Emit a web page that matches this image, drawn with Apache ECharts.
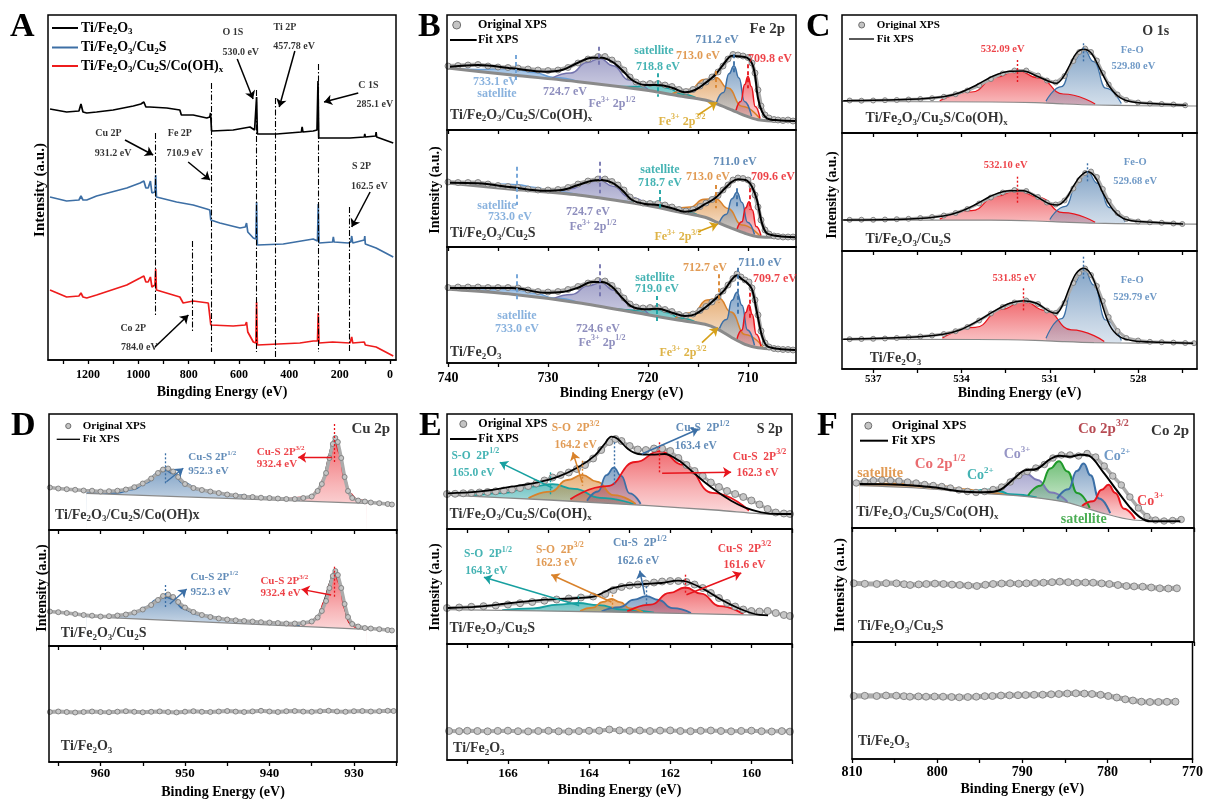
<!DOCTYPE html>
<html>
<head>
<meta charset="utf-8">
<script src="https://cdn.jsdelivr.net/npm/echarts@6/dist/echarts.min.js"></script>
<style>html,body{margin:0;background:#fff}#chart{width:1206px;height:801px}</style>
</head>
<body>
<div id="chart"></div>
<script>
const FONT = 'Liberation Serif'

// ---------- A: survey spectra (binding energy eV, intensity a.u.) ----------
const surveyFe = [[1351,251],[1285,248],[1236,249],[1228,256],[1220,248],[1205,247],[1166,248],[1100,250],[1020,254],[990,256],[978,258],[970,253],[954,253],[887,252],[835,250],[829,245],[782,245],[728,242],[716,243],[713,247],[709,229],[623,230],[556,233],[538,230],[532,229],[530,263],[527,226],[450,226],[352,228],[349,233],[346,228],[305,229],[290,230],[286,279],[283,222],[272,222],[159,222],[102,223],[100,226],[98,223],[57,224],[55,228],[53,223],[-13,217]]
const surveyCu = [[1351,163],[1285,159],[1236,160],[1228,164],[1220,160],[1205,160],[1166,164],[1046,172],[993,177],[978,179],[970,172],[961,172],[952,179],[946,167],[934,168],[931,185],[928,163],[921,163],[848,158],[782,155],[728,151],[716,150],[712,140],[676,137],[596,132],[575,133],[570,137],[565,128],[543,122],[533,121],[530,158],[527,115],[424,116],[305,121],[288,119],[285,156],[282,117],[278,117],[228,118],[225,123],[222,118],[166,117],[156,118],[152,124],[148,117],[102,120],[100,124],[98,116],[55,112],[-13,103]]
const surveyCo = [[1351,70],[1285,63],[1236,64],[1228,67],[1220,63],[1205,62],[1166,65],[1046,75],[993,82],[978,84],[970,78],[961,78],[952,83],[946,73],[934,75],[931,91],[928,70],[921,68],[835,63],[822,57],[782,59],[722,57],[716,58],[712,35],[623,34],[575,35],[570,38],[565,28],[543,18],[533,17],[530,58],[527,15],[358,17],[305,19],[288,19],[285,47],[282,17],[278,17],[228,18],[225,20],[222,17],[159,17],[152,23],[148,17],[102,18],[100,20],[98,15],[55,13],[-13,4]]
const surveyPeaks = [931.2, 710.9, 530.0, 457.78, 285.1, 162.5, 784.0]

// ---------- B: Fe 2p ----------
const feCoRaw = [[740,64],[739,64.5],[738,65],[737,65.5],[736,64],[735,63],[734,62.5],[733,62],[732,61],[731,60],[730,59.5],[729,60],[728,62.5],[727,67],[726,71],[725,73.5],[724.3,73.5],[723.6,70],[723,66],[722.4,60],[721.8,53],[721.2,48],[720.5,46],[719.8,46.5],[719,46.5],[718.3,45],[717.6,43.5],[716.9,40.5],[716.2,38.5],[715.5,40.5],[714.8,44],[714.2,48],[713.6,53],[713,58],[712.5,64],[712,71],[711.5,75.5],[711,75],[710.5,74],[710,72.5],[709.6,67],[709.3,57],[709,40],[708.7,24],[708.3,15],[707.9,12],[707.4,10.5],[707,10],[706.5,9.5],[706,10],[705.5,9]]
const feCoFit = [[739.8,63.3],[737,65],[733.6,61.7],[730.3,58.3],[728.6,60],[727,67.3],[725.6,72.3],[724.6,72.3],[723.6,68.3],[722.6,60],[721.6,50],[720.3,45],[719,45],[717.6,42.3],[716.3,37.7],[715.3,40],[714.3,46.7],[713.3,55],[712.5,65],[711.6,74.3],[711,73.7],[710.1,72.3],[709.6,66.7],[709.3,55],[709,31.7],[708.6,18.3],[708.1,11.7],[707,9.7],[705.3,9]]
const feCoBg = [[740.1,61.8],[739.8,61.7],[733.6,55],[727,48.3],[720.3,40],[717,34.3],[714.3,30],[713,25.7],[711.6,20],[710.3,14.3],[709,10.3],[707,9],[705.2,9]]
const feCoSat733 = [[739.5,61.6],[737,60.5],[735,61.2],[733.2,60.6],[731.4,57.5],[729.4,52.5],[727,48.5]]
const feCo2p12 = [[729.6,51.9],[727.7,57.1],[726.1,67.5],[724.8,71.6],[723.5,64.3],[721.9,50.1],[720,40.4]]
const feCoSat719 = [[723,43.6],[721.3,43.4],[720.1,45.2],[719,44.8],[717.9,41.4],[716.7,36],[715,31.4]]
const feCo713 = [[717.6,36.2],[715.8,40.5],[714.4,50.5],[713.2,52.4],[712,41.9],[710.6,23.7],[708.8,11.1]]
const feCo711 = [[713.15,27.8],[712.45,37.5],[711.9,56.2],[711.4,64.3],[710.9,52],[710.35,28.5],[709.65,13.9]]
const feCo710 = [[711.2,19.8],[710.72,28.6],[710.33,45.6],[710,53.4],[709.67,43.6],[709.28,23.6],[708.8,11.6]]

const feCuRaw = [[740,65],[739,64.5],[738,64.5],[737,64.5],[736,63],[735,61.5],[734,60.5],[733,59.5],[732,58],[731,57],[730,57],[729,57.5],[728,59.5],[727,63],[726,66],[725,68],[724.3,68],[723.6,65.5],[723,62],[722.4,57],[721.8,50],[721.2,46],[720.5,44],[719.8,43.5],[719,43.5],[718.3,42],[717.6,40],[716.9,37.5],[716.2,36],[715.5,37.5],[714.8,40.5],[714.2,44],[713.6,47.5],[713,51.5],[712.5,57],[712,62],[711.5,67],[711,69],[710.5,68.5],[710,67],[709.6,61],[709.3,52],[709,40],[708.7,27],[708.3,17],[707.9,13],[707.4,11],[707,10.5],[706.5,10],[706,10],[705.5,10]]
const feCuFit = [[739.8,64.3],[737,63.7],[733.6,59.7],[730.3,56.3],[728.6,57],[727,62],[725.6,66.3],[724.6,67],[723.6,64.3],[722.6,57],[721.6,47],[720.3,43],[719,42],[717.6,38.7],[716.3,35.3],[715.3,37],[714.3,43],[713.3,48.7],[712.3,58.7],[711.6,65.3],[711,67.7],[710.1,66.3],[709.6,60.3],[709.1,47],[708.6,23.7],[708.1,13.7],[707,11],[705.3,9.7]]
const feCuBg = [[740.1,63.8],[739.8,63.7],[733.6,57.7],[727,52],[720.3,42],[717,35.3],[714.3,29.7],[713,24.3],[711.6,18.7],[710.3,13.7],[709,10.3],[707,9.7],[705.2,9.7]]
const feCuSat733 = [[739.5,63.6],[737,62.5],[735,63],[733.1,62.3],[731.3,59.6],[729.4,55.6],[727,52.2]]
const feCu2p12 = [[729.6,54.9],[727.7,58.2],[726.1,64.7],[724.8,66.7],[723.5,60.8],[721.9,50],[720,42]]
const feCuSat719 = [[722.8,45.9],[721.1,44.8],[719.9,45.1],[718.8,44],[717.7,40.7],[716.5,35.8],[714.8,30.9]]
const feCu713 = [[717.6,37.3],[715.8,39.9],[714.4,47.8],[713.2,48.1],[712,38.5],[710.6,22],[708.8,10.9]]
const feCu711 = [[712.85,25],[712.15,32.8],[711.6,48.3],[711.1,54.8],[710.6,44.5],[710.05,24.8],[709.35,12.5]]
const feCu710 = [[711.1,18],[710.62,25.2],[710.23,39.2],[709.9,45.3],[709.57,37],[709.18,20.4],[708.7,11.2]]

const feRaw = [[740,75.5],[739,76],[738,76],[737,76],[736,75.5],[735,75.5],[734,75.5],[733,75],[732,73],[731,71.5],[730,71],[729,71.5],[728,73.5],[727,76.5],[726,80],[725,82.5],[724.3,82],[723.6,77.5],[723,72],[722.4,65],[721.8,59],[721.2,56],[720.5,55],[719.8,55.5],[719,55.5],[718.3,53.5],[717.6,51.5],[716.9,48.5],[716.2,47.5],[715.5,49],[714.8,52.5],[714.2,56.5],[713.6,61],[713,66],[712.5,72],[712,78],[711.5,84.5],[711.1,89],[710.7,86],[710.3,83],[709.9,81],[709.6,75],[709.3,63],[709,48],[708.7,32],[708.3,20],[707.9,16],[707.4,14.5],[707,14],[706.5,13.5],[706,13.5],[705.5,13]]
const feFit = [[739.8,75],[737,75],[733.6,75],[730.3,70.3],[728.6,71],[727,75.3],[725.6,81],[724.6,81],[723.6,76.3],[722.6,65.3],[721.6,56.3],[720.3,53.7],[719,54.3],[717.6,50.3],[716.3,47],[715.3,48.7],[714.3,55.3],[713.3,63.7],[712.3,73.7],[711.6,83.7],[711.1,87.7],[710.6,83.7],[710.1,80.3],[709.6,73.7],[709.1,50.3],[708.6,27],[708.1,17],[707,14.3],[705.3,13]]
const feBg = [[740.1,73.8],[739.8,73.7],[733.6,68.7],[727,60.3],[720.3,48.7],[717,43],[714.3,38.7],[713,33.7],[711.6,25.3],[710.3,18.7],[709,15.3],[707,13.7],[705.2,13]]
const feSat733 = [[739.5,73.7],[737,72.9],[735,73.7],[733.1,73.1],[731.3,69.7],[729.4,64.9],[727,60.5]]
const fe2p12 = [[729.5,64.3],[727.6,68.5],[726,77.3],[724.7,80.3],[723.4,72.8],[721.8,58.7],[719.9,48.8]]
const feSat719 = [[723.1,53.9],[721.4,52.8],[720.2,54],[719.1,53.6],[718,50.2],[716.8,44.9],[715.1,40.3]]
const fe713 = [[717.3,44.6],[715.5,50.5],[714.1,62.9],[712.9,65.1],[711.7,50.9],[710.3,28.6],[708.5,15.9]]
const fe711 = [[712.85,34.5],[712.15,43.4],[711.6,62.7],[711.1,70.7],[710.6,57.7],[710.05,32.9],[709.35,17.7]]
const fe710 = [[711.1,24.1],[710.62,32.7],[710.23,50.5],[709.9,58],[709.57,48.5],[709.18,28.7],[708.7,16.5]]

// ---------- C: O 1s ----------
const oCoRaw = [[537.8,32.5],[537.4,32.3],[537,32.5],[536.6,32.8],[536.2,33],[535.8,33.5],[535.4,34],[535,34.8],[534.6,36.2],[534.2,38.8],[533.8,42.5],[533.4,47.5],[533,54],[532.6,59.5],[532.2,62.5],[531.8,62.5],[531.4,57.5],[531.1,52.5],[530.8,50.5],[530.5,57],[530.2,72],[530,81],[529.8,84.5],[529.6,81],[529.4,72.5],[529.2,60],[529,48.5],[528.7,38.5],[528.4,33],[528,30.5],[527.6,29.5],[527.2,29],[526.8,28.5],[526.4,27.7]]
const oCoFit = [[538.02,32.3],[535.76,33.7],[534.62,36.3],[534.06,40.3],[533.49,48],[532.92,57],[532.36,61.7],[531.9,62],[531.45,57],[531,51.3],[530.78,49.7],[530.55,55.7],[530.32,68],[530.1,79.7],[529.85,83.7],[529.59,79.7],[529.31,64.7],[528.97,46.3],[528.63,35.7],[528.18,31],[527.27,29],[526.36,27.7]]
const oCoBg = [[538.06,31.5],[533,31],[531.5,30.3],[530.5,29],[529.5,28],[528,27.3],[526,27]]
const oCoOH = [[534.74,32.3],[533.66,41],[532.82,55.9],[532.1,62.6],[531.38,55.1],[530.54,39],[529.46,29.1]]
const oCoFeO = [[531.13,31.9],[530.6,46.4],[530.2,72.1],[529.85,83.9],[529.5,71.3],[529.1,44.8],[528.57,29.4]]

const oCuRaw = [[537.8,31.2],[537.4,31.3],[537,31.2],[536.6,31.5],[536.2,31.8],[535.8,32.2],[535.4,33],[535,34],[534.6,35.5],[534.2,38],[533.8,42],[533.4,47.5],[533,53.5],[532.6,58.5],[532.2,61],[531.8,60],[531.4,54],[531.1,48.5],[530.8,46.5],[530.5,50.5],[530.2,62.5],[530,71],[529.8,78],[529.6,79.5],[529.4,74],[529.2,62],[529,50],[528.7,38],[528.4,32],[528,29.5],[527.6,28.7],[527.2,28.2],[526.8,27.5],[526.5,27]]
const oCuFit = [[538.02,31],[535.76,32],[534.62,35],[534.06,39.3],[533.49,47],[532.92,56],[532.36,60.3],[531.9,60.3],[531.45,54.3],[531,47],[530.72,46],[530.44,52.7],[530.21,64.3],[529.98,74.3],[529.72,79.3],[529.47,74.3],[529.19,57.7],[528.85,41],[528.51,32.7],[528.06,29.7],[527.27,28.3],[526.47,27]]
const oCuBg = [[538.06,31],[533,30.8],[531.5,30],[530.5,28.8],[529.5,27.8],[528,27.2],[526,26.8]]
const oCuOH = [[534.74,31.9],[533.66,40.3],[532.82,54.5],[532.1,60.8],[531.38,53.7],[530.54,38.3],[529.46,28.8]]
const oCuFeO = [[531,31.5],[530.47,44.6],[530.07,68.2],[529.72,79.1],[529.37,67.5],[528.97,43.4],[528.44,29.2]]

const oRaw = [[537.8,29.8],[537.4,30],[537,30.2],[536.6,30.5],[536.2,31],[535.8,31.8],[535.4,32.5],[535,33.5],[534.6,35],[534.2,37.8],[533.8,42],[533.4,48.5],[533,55.5],[532.6,62],[532.2,66.5],[531.8,68.5],[531.4,65],[531.1,58.5],[530.8,56],[530.5,66],[530.2,86],[530,96],[529.8,100.5],[529.6,94],[529.4,83],[529.2,68],[529,52],[528.7,38],[528.4,31],[528,28.5],[527.6,27.2],[527.2,26.8],[526.8,26.4],[526.4,26],[526.1,25.8]]
const oFit = [[538.02,29.7],[535.76,31.7],[534.62,34.7],[534.06,39],[533.49,47.3],[532.92,57.3],[532.36,65.7],[531.9,68.3],[531.45,65.7],[531,57.3],[530.78,55.7],[530.55,65],[530.32,82.3],[530.1,95.7],[529.85,100.7],[529.59,94],[529.31,72.3],[528.97,44],[528.63,32.3],[528.18,28.3],[527.27,26.7],[526.13,25.7]]
const oBg = [[538.06,29.7],[533.5,29.5],[531.5,28.7],[530.5,27.3],[529.5,26.3],[528,25.8],[526,25.6]]
const oOH = [[534.65,31],[533.53,41.6],[532.65,59.6],[531.9,67.9],[531.15,58.6],[530.27,39.2],[529.15,27.6]]
const oFeO = [[531.13,30.7],[530.6,50.4],[530.2,84.7],[529.85,100.6],[529.5,84],[529.1,49],[528.57,28.5]]

// ---------- D: Cu 2p ----------
const cuCoRaw = [[966,42.5],[965,41.5],[964,40.8],[963,40.2],[962,39.5],[961,39.3],[960,38.5],[959,38.8],[958,39.3],[957,40.5],[956,42.8],[955,46.5],[954,51.5],[953.2,57],[952.6,60.5],[952,61.5],[951.4,58.5],[950.8,53],[950,46],[949,42],[948,40],[947,38.5],[946,37],[945,35.5],[944,34.5],[943,33.5],[942,33],[941,32.3],[940,32],[939,31.5],[938,31],[937,31],[936,32],[935,33.5],[934.3,39],[933.8,46],[933.3,57],[932.9,72],[932.5,86],[932.2,92],[931.9,88],[931.5,72],[931.1,53],[930.7,39],[930.2,32],[929.5,29.5],[928.7,28.5],[928,27.5],[927,26.8],[926,26],[925.5,25.5]]
const cuCoFit = [[961.7,39.3],[960.1,38.3],[958.1,39.3],[956.1,42.7],[954.6,48.3],[953.4,55],[952.4,60.7],[951.8,60.7],[951,55],[949.8,45],[948.3,40],[946.3,36.7],[944.3,34],[940.4,31.7],[937.2,30.7],[935.2,33.3],[934.2,40.7],[933.5,55],[932.9,76.7],[932.3,90.7],[931.9,86.7],[931.1,53.3],[930.5,35],[929.3,30],[928.5,28.3]]
const cuCoBg = [[961.66,36.7],[928.52,26.7]]
const cuCo2p12 = [[961.66,36.7],[958.1,37.3],[956.14,40.7],[954.56,47.3],[953.37,56],[952.31,60],[951.41,56.7],[950.22,47.3],[948.25,40],[944.31,35],[940.36,32.3],[936.41,30]]
const cuCo2p32 = [[937.95,30.7],[935.2,32.7],[934.24,39.3],[933.45,52.7],[932.86,73.3],[932.27,90.7],[931.68,76.7],[931.09,50],[930.5,36.7],[929.7,30.7],[928.52,27.3]]

const cuCuRaw = [[966,34.5],[965,33.8],[964,33],[963,32],[962,31],[961,30.3],[960,29.5],[959,29.8],[958,30.5],[957,31.5],[956,33.5],[955,36.5],[954,41],[953.2,46],[952.6,50],[952,51.5],[951.4,49],[950.8,44],[950,38.5],[949,34],[948,31],[947,29],[946,27.5],[945,26.5],[944,25.7],[943,25],[942,24.5],[941,23.8],[940,23.5],[939,23],[938,22.5],[937,22.5],[936,23],[935,24.5],[934.3,28.5],[933.8,35],[933.3,45],[932.9,58],[932.5,70],[932.2,75],[931.9,71],[931.5,58],[931.1,42],[930.7,29],[930.2,22],[929.5,19.5],[928.7,18],[928,17.5],[927,16.8],[926,16],[925.5,15.5]]
const cuCuFit = [[961.7,30],[960.1,29.3],[956.1,32.7],[954.6,38.7],[953.4,46],[952.3,50.5],[951.4,47.7],[950.2,37.7],[948.3,31],[944.3,26],[940.4,23.3],[937.2,22],[935.2,24.3],[934.2,31],[933.5,46],[932.9,62.7],[932.3,74.3],[931.7,64.3],[931.1,37.7],[930.5,22.7],[929.3,18.7],[928.5,17.7]]
const cuCuBg = [[961.66,29.3],[928.52,16.7]]
const cuCu2p12 = [[961.66,29.3],[958.1,30],[956.14,32.7],[954.56,38.7],[953.37,46],[952.31,49.3],[951.41,46.7],[950.22,37.7],[948.25,31],[944.31,26],[940.36,23.3],[936.41,20.7]]
const cuCu2p32 = [[937.95,21],[935.2,23.3],[934.24,29.3],[933.45,44.3],[932.86,61],[932.3,73.3],[931.68,62.7],[931.09,37.7],[930.5,23.3],[929.7,18.7],[928.52,16.7]]

const cuFeRaw = [[966,50],[965,50.5],[964,50],[963,49.5],[962,50],[961,50.5],[960,50],[959,49.8],[958,50.3],[957,50.8],[956,50.2],[955,49.7],[954,50.2],[953,50.6],[952,50],[951,49.6],[950,50.3],[949,50.8],[948,50.2],[947,50],[946,50.5],[945,51],[944,50.4],[943,50],[942,50.6],[941,51.2],[940,50.5],[939,50],[938,50.8],[937,51],[936,50.4],[935,50.2],[934,50.8],[933,51.2],[932,50.6],[931,50.2],[930,50.8],[929,51],[928,50.5],[927,50.8],[926,51.2],[925.3,51]]

// ---------- E: S 2p ----------
const sCoRaw = [[167.5,35],[167.3,35.2],[167.1,35.7],[166.9,36],[166.7,36.5],[166.5,37],[166.3,37.7],[166.1,38.5],[165.9,39.5],[165.7,41],[165.5,43],[165.3,45.5],[165.1,48.5],[164.9,51.5],[164.7,54],[164.5,56.5],[164.3,60],[164.1,64],[163.9,70.5],[163.7,79],[163.5,87],[163.35,90],[163.2,88],[163,83],[162.8,79.5],[162.6,79],[162.4,80.5],[162.2,80.5],[162,78],[161.8,71],[161.6,64],[161.4,58],[161.2,53],[161,46.5],[160.8,42],[160.6,38],[160.4,35],[160.2,32],[160,28.5],[159.8,24.5],[159.6,20],[159.4,16.5],[159.2,15.5],[159.05,15]]
const sCoFit = [[167.48,35.7],[166.74,37.3],[165.92,42.3],[165.26,46.7],[164.76,52.3],[164.27,61.7],[163.86,73.3],[163.62,85],[163.45,92.3],[163.29,90],[163.04,80],[162.79,75],[162.46,74.3],[162.14,75],[161.81,69],[161.48,58.3],[161.15,46.7],[160.82,36.7],[160.5,28.3],[160.17,21.7],[159.76,16.7],[159.35,15],[159.02,15]]
const sCoBg = [[167.5,34],[164.98,29],[162.53,23.3],[160.9,19],[159.35,14.3],[159.02,14.2]]
const sCoSO12 = [[166.9,33.4],[166.07,36.2],[165.44,42.4],[164.9,44.8],[164.36,40.1],[163.73,31.2],[162.9,24.8]]
const sCoSO32 = [[165.49,30.9],[164.95,37.3],[164.53,49],[164.17,54.2],[163.81,47.4],[163.39,33.8],[162.85,25]]
const sCoCuS12 = [[164.05,28.3],[163.78,37.5],[163.57,53.9],[163.39,61.4],[163.21,53.1],[163,35.7],[162.73,25.1]]
const sCoCuS32 = [[164.46,29.7],[163.56,42.8],[162.86,67],[162.26,77.8],[161.66,64.1],[160.96,36.2],[160.06,18.5]]

const sCuRaw = [[167.5,36],[167.2,36.5],[166.9,37.2],[166.6,37.8],[166.3,38.5],[166,39.5],[165.7,40.8],[165.4,42],[165.1,43.3],[164.8,44.5],[164.5,45.5],[164.2,46.5],[163.9,47.5],[163.6,50],[163.4,54],[163.2,57],[163,58.5],[162.8,59.5],[162.6,60.5],[162.4,61.5],[162.2,62.5],[162,63],[161.8,63],[161.6,62],[161.4,59.5],[161.2,56],[161,51],[160.8,46],[160.6,41],[160.4,37.5],[160.2,34.5],[160,33],[159.8,32.5],[159.6,33],[159.4,31],[159.2,29],[159.05,28]]
const sCuFit = [[167.48,36],[166.74,37.3],[165.92,41],[165.09,44.3],[164.27,46],[163.86,47.7],[163.62,52],[163.45,55.3],[163.12,58.7],[162.63,60],[162.22,61],[161.81,63.3],[161.56,62],[161.15,54.3],[160.74,44.3],[160.33,36],[159.92,30],[159.59,28.7]]
const sCuBg = [[167.5,34.3],[163.45,32],[159.59,28.7]]
const sCuSO12 = [[166.14,33.8],[165.37,35.7],[164.77,39.4],[164.27,41],[163.77,38.8],[163.17,34.4],[162.4,31.4]]
const sCuSO32 = [[164.22,33],[163.91,36.3],[163.66,42.2],[163.45,45],[163.24,41.9],[162.99,35.6],[162.68,31.8]]
const sCuCuS12 = [[163.69,32.7],[163.24,36.9],[162.89,44.4],[162.59,47.8],[162.29,44],[161.94,35.9],[161.49,31]]
const sCuCuS32 = [[163.06,32.6],[162.48,39.3],[162.02,51.1],[161.63,56.5],[161.24,50.4],[160.78,37.8],[160.2,30]]

const sFeRaw = [[167.45,29],[167.2,28.8],[167,29.2],[166.75,29],[166.5,28.7],[166.25,29.1],[166,29.3],[165.75,28.8],[165.5,28.6],[165.25,29],[165,29.2],[164.75,28.7],[164.5,28.5],[164.25,28.9],[164,29.2],[163.75,29.3],[163.5,30.5],[163.25,29.6],[163,29.2],[162.75,29.5],[162.5,29],[162.25,29.4],[162,29.6],[161.75,29],[161.5,28.8],[161.25,29.2],[161,29.5],[160.75,29],[160.5,28.7],[160.25,29.1],[160,29.3],[159.75,28.8],[159.5,28.5],[159.25,28.9],[159.05,28.4]]

// ---------- F: Co 2p ----------
const coRaw = [[809.5,45],[808.5,46.5],[807.5,47.5],[806.5,48],[805.5,47.5],[804.5,47],[803.5,46],[802.5,45],[801.5,43.5],[800.5,42.5],[799.5,41.5],[798.5,40],[797.5,38],[796.5,36.5],[795.5,35.5],[794.5,36.5],[793.5,38.5],[792.5,41],[791.5,46],[790.5,52.5],[789.5,56.5],[788.5,60],[787.5,63.5],[786.5,70],[785.5,73],[784.5,73],[783.5,72],[782.5,74.5],[781.5,71],[780.5,62],[779.5,52],[778.5,43],[777.5,31],[776.5,20],[775.5,11.5],[774.5,8],[773.5,7],[772.5,7.5],[771.5,8.5]]
const coFit = [[809.1,44],[804.4,43.3],[800.5,40.7],[797.4,36.7],[794.6,35.7],[792.7,38],[791.1,49],[789.9,57.3],[788.4,59],[786.8,69],[785.7,72.3],[784.5,71.3],[783.3,73.3],[782.3,72.3],[780.6,55.7],[779,37.3],[777.5,20.7],[776.3,10.7],[775.1,6.7],[771.6,6.7]]
const coBg = [[809.1,42.3],[802.5,40],[794.7,34.7],[788.8,30.7],[784.9,25.7],[781,15.7],[777.1,8],[771.6,6.7]]
const coSatA = [[809.1,42.6],[806.3,44.3],[803.2,44.8],[800.1,42.6],[797,38.8],[793.8,35],[791.9,33]]
const coCo2A = [[797.2,37.2],[795.7,37.1],[794.6,38.2],[793.8,38.4],[792.8,37],[791.5,33.7],[788.4,30.5]]
const coCo3A = [[794.4,35.3],[792.5,40.3],[790.9,50],[789.6,54.2],[788.3,48],[786.7,35.4],[784.8,26.2]]
const coSatB = [[789.4,32.5],[787.95,42.2],[786.8,59.6],[785.8,66.8],[784.8,56.6],[783.65,34.9],[782.2,20.2]]
const coCo2B = [[786,29.4],[784.7,38.8],[783.7,56.9],[782.9,64.5],[782.1,52.7],[781.1,29.4],[779.8,14.8]]
const coCo3B = [[783.1,22],[781.8,26.7],[780.8,38.3],[780,43.2],[779.2,35.1],[778.2,19.3],[776.9,8.9]]
const coCuRaw = [[809.8,58.7],[808.5,58.2],[807.1,58],[806,58.8],[804.8,58.7],[803.9,57.8],[803.2,57],[802.2,57.6],[801.3,58],[800.3,58.4],[799.3,58],[798.3,57.4],[797.4,57],[796.4,56.5],[795.4,56],[794.4,57.2],[793.5,58],[792.5,58.5],[791.5,58.7],[790.5,58.3],[789.6,58.7],[788.6,59],[787.6,59.3],[786.6,59.8],[785.7,60.3],[784.7,59.8],[783.7,59.3],[782.7,59.5],[781.8,59.3],[780.8,58.6],[779.9,58],[778.9,57],[777.9,56],[777,55.6],[776,55.3],[775,54.5],[774,53.7],[773,53.5],[772,53.7]]
const coFeRaw = [[809.8,63],[808.5,63.2],[807.1,63],[806,63.5],[804.8,63.3],[803.9,62.8],[803.2,62.3],[802.2,62.6],[801.3,62.3],[800.3,62.5],[799.3,62.3],[798.3,62],[797.4,61.7],[796.4,62],[795.4,62.3],[794.4,62.8],[793.5,63],[792.5,63.5],[791.5,63.7],[790.5,63.8],[789.6,64],[788.6,64.2],[787.6,64.3],[786.6,64.7],[785.7,65],[784.7,65.5],[783.7,65.7],[782.7,65.4],[781.8,65],[780.8,64.2],[779.9,63],[778.9,61.5],[777.9,59.7],[777,58.5],[776,57.3],[775,57],[774,57],[773,57.2],[772,57.3]]

// axis ticks / labels
const aTicks = [0,100,200,300,400,500,600,700,800,900,1000,1100,1200,1300]
const aLabels = [0,200,400,600,800,1000,1200]
const bTicks = [705,710,715,720,725,730,735,740]
const bLabels = [710,720,730,740]
const cTicks = [526.5,528,529.5,531,532.5,534,535.5,537]
const cLabels = [528,531,534,537]
const dTicks = [925,930,935,940,945,950,955,960,965]
const dLabels = [930,940,950,960]
const eTicks = [159,160,161,162,163,164,165,166,167]
const eLabels = [160,162,164,166]
const fTicks = [770,775,780,785,790,795,800,805,810]
const fLabels = [770,780,790,800,810]

// colours
const LB = '#6b9fd6', PU = '#7272ad', TE = '#17a0a0', OR = '#d9822b', BL = '#3b6fa6', RD = '#e8141c', GD = '#d6a019'
const GR = '#1f9a2a', DR = '#a51e28', R2 = '#e4464b', PU2 = '#7c7ab6', BL2 = '#4b7fb8'

// ---------- helpers ----------
const RICH = {}
;[10, 10.5, 11, 11.5, 12, 13, 14, 15].forEach((s) => {
    const k = String(s).replace('.', '_')
    RICH['b' + k] = {fontFamily: FONT, fontWeight: 'bold', fontSize: Math.round(s * 0.66), padding: [Math.round(s * 0.55), 0, 0, 0]}
    RICH['p' + k] = {fontFamily: FONT, fontWeight: 'bold', fontSize: Math.round(s * 0.66), padding: [0, 0, Math.round(s * 0.75), 0]}
})
const rt = (s, size) => {
    const k = String(size).replace('.', '_')
    return s.replace(/_\{([^}]*)\}/g, (m, t) => `{b${k}|${t}}`).replace(/\^\{([^}]*)\}/g, (m, t) => `{p${k}|${t}}`)
}
const hexA = (h, a) => {
    const n = parseInt(h.slice(1), 16)
    return `rgba(${n >> 16},${(n >> 8) & 255},${n & 255},${a})`
}
const grad = (c) => new echarts.graphic.LinearGradient(0, 0, 0, 1, [
    {offset: 0, color: hexA(c, 0.9)},
    {offset: 0.5, color: hexA(c, 0.45)},
    {offset: 1, color: hexA(c, 0.08)},
])

const option = {animation: false, backgroundColor: '#fff', grid: [], xAxis: [], yAxis: [], series: [], graphic: []}
const S = option.series

function addGrid(box, xr, H, ticks, labels, lsize, lmargin, name, ngap) {
    const i = option.grid.length
    option.grid.push({left: box[0], top: box[1], width: box[2], height: box[3], show: true, borderColor: '#000', borderWidth: 1.5, backgroundColor: 'rgba(0,0,0,0)', z: 10})
    option.xAxis.push({
        gridIndex: i, type: 'value', min: xr[0], max: xr[1], inverse: true, position: 'bottom', z: 10,
        axisLine: {show: true, onZero: false, lineStyle: {color: '#000', width: 1.5}},
        axisTick: {show: true, inside: false, length: 4, lineStyle: {color: '#000', width: 1.3}, customValues: ticks},
        axisLabel: labels
            ? {show: true, customValues: labels, margin: lmargin, color: '#000', fontFamily: FONT, fontWeight: 'bold', fontSize: lsize, formatter: (v) => String(v)}
            : {show: false},
        splitLine: {show: false},
        name: name || '', nameLocation: 'middle', nameGap: ngap || 0,
        nameTextStyle: {color: '#000', fontFamily: FONT, fontWeight: 'bold', fontSize: 14},
    })
    option.yAxis.push({gridIndex: i, type: 'value', min: 0, max: H, show: false})
    return i
}

const ax = (g) => ({xAxisIndex: g, yAxisIndex: g, silent: true})

function spectrum(g, o) {
    o.peaks.forEach(([d, c]) => {
        S.push({type: 'line', ...ax(g), data: d, smooth: 0.5, smoothMonotone: 'x', symbol: 'none',
            lineStyle: {color: c, width: o.pkW || 1.6}, areaStyle: {color: grad(c)}, z: 2})
    })
    if (o.bg) {
        S.push({type: 'line', ...ax(g), data: o.bg, symbol: 'none', lineStyle: {opacity: 0}, areaStyle: {color: '#fff', opacity: 1}, z: 3})
        S.push({type: 'line', ...ax(g), data: o.bg, symbol: 'none', smooth: 0.3, lineStyle: {color: '#8a8a8a', width: o.bgW || 1.5}, z: 4})
    }
    if (o.raw) {
        S.push({type: 'line', ...ax(g), data: o.raw, symbol: 'circle', symbolSize: o.dot || 6, showSymbol: true,
            lineStyle: {color: '#ababab', width: o.rawW || 3}, itemStyle: {color: '#c6c6c6', borderColor: '#737373', borderWidth: 0.8}, z: 5})
    }
    if (o.fit) {
        S.push({type: 'line', ...ax(g), data: o.fit, smooth: 0.35, symbol: 'none', lineStyle: {color: '#000', width: o.fitW || 2}, z: o.fitZ || 6})
    }
}

function texts(g, items) {
    S.push({
        type: 'scatter', ...ax(g), symbolSize: 1, itemStyle: {color: 'rgba(0,0,0,0)'}, z: 20, clip: false,
        label: {show: true, position: 'inside', fontFamily: FONT, fontWeight: 'bold', formatter: (p) => p.data.t, rich: RICH},
        data: items.map(([x, y, s, c, size, al]) => ({value: [x, y], t: rt(s, size), label: {color: c, fontSize: size, align: al || 'center'}})),
    })
}

function segs(g, items, arrow, type, width) {
    S.push({
        type: 'lines', coordinateSystem: 'cartesian2d', ...ax(g), polyline: false, z: 15,
        symbol: arrow ? ['none', 'arrow'] : ['none', 'none'], symbolSize: 8,
        lineStyle: {width: width || 1.5, type: type || 'solid', opacity: 1, curveness: 0},
        data: items.map(([x1, y1, x2, y2, c]) => ({coords: [[x1, y1], [x2, y2]], lineStyle: {color: c}})),
    })
}

const G = option.graphic
function gtext(x, y, s, size, color, rot) {
    G.push({type: 'text', x, y, rotation: rot || 0, z: 100,
        style: {text: rt(s, size), rich: RICH, fontFamily: FONT, fontWeight: 'bold', fontSize: size, fill: color || '#000',
            align: rot ? 'center' : 'left', verticalAlign: 'middle'}})
}
function legendXPS(cx, cy, r, l0, l1, ly, tx, size, lw) {
    G.push({type: 'circle', z: 100, shape: {cx, cy, r}, style: {fill: '#c4c4c4', stroke: '#6f6f6f', lineWidth: 1}})
    gtext(tx, cy, 'Original XPS', size)
    G.push({type: 'line', z: 100, shape: {x1: l0, y1: ly, x2: l1, y2: ly}, style: {stroke: '#000', lineWidth: lw}})
    gtext(tx, ly, 'Fit XPS', size)
}

// ---------- Panel A ----------
const gA = addGrid([48, 15, 348, 345], [-24, 1359], 345, aTicks, aLabels, 12, 9, 'Bingding Energy (eV)', 25)
S.push({type: 'line', ...ax(gA), data: surveyFe, symbol: 'none', lineStyle: {color: '#000', width: 1.7}, z: 5})
S.push({type: 'line', ...ax(gA), data: surveyCu, symbol: 'none', lineStyle: {color: '#3d6fa5', width: 1.7}, z: 5})
S.push({type: 'line', ...ax(gA), data: surveyCo, symbol: 'none', lineStyle: {color: '#ee1c1c', width: 1.7}, z: 5})
const aSpan = [[227, 43], [277, 8], [270, 8], [262, 3], [296, 8], [153, 7], [119, 29]]
segs(gA, surveyPeaks.map((e, i) => [e, aSpan[i][0], e, aSpan[i][1], '#000']), false, [6, 2, 1.5, 2], 1.1)
segs(gA, [[607, 301, 544, 261, '#000'], [378, 309, 440, 253, '#000'], [126, 267, 262, 258, '#000'], [1053, 220, 941, 205, '#000'],
    [802, 198, 715, 180, '#000'], [79, 168, 152, 133, '#000'], [934, 13, 801, 45, '#000']], true, 'solid', 1.5)
texts(gA, [[624, 328, 'O 1S', '#000', 10], [593, 308, '530.0 eV', '#000', 10], [417, 333, 'Ti 2P', '#000', 10], [381, 314, '457.78 eV', '#000', 10],
    [86, 275, 'C 1S', '#000', 10], [60, 256, '285.1 eV', '#000', 10], [1119, 227, 'Cu 2P', '#000', 10], [1100, 207, '931.2 eV', '#000', 10],
    [835, 227, 'Fe 2P', '#000', 10], [815, 207, '710.9 eV', '#000', 10], [113, 194, 'S 2P', '#000', 10], [82, 174, '162.5 eV', '#000', 10],
    [1020, 32, 'Co 2P', '#000', 10], [996, 13, '784.0 eV', '#000', 10]])
;[['Ti/Fe_{2}O_{3}', '#000', 28], ['Ti/Fe_{2}O_{3}/Cu_{2}S', '#3d6fa5', 47.5], ['Ti/Fe_{2}O_{3}/Cu_{2}S/Co(OH)_{x}', '#ee1c1c', 66]].forEach(([s, c, y]) => {
    G.push({type: 'line', z: 100, shape: {x1: 52, y1: y, x2: 78, y2: y}, style: {stroke: c, lineWidth: 2}})
    gtext(81, y, s, 14)
})

// ---------- Panel B ----------
const gB1 = addGrid([447, 15, 349, 115], [705.2, 740.1], 115, bTicks)
const gB2 = addGrid([447, 130, 349, 117], [705.2, 740.1], 117, bTicks)
const gB3 = addGrid([447, 247, 349, 116], [705.2, 740.1], 116, bTicks, bLabels, 14, 8, 'Binding Energy (eV)', 23)
spectrum(gB1, {peaks: [[feCoSat733, LB], [feCo2p12, PU], [feCoSat719, TE], [feCo713, OR], [feCo711, BL], [feCo710, RD]], bg: feCoBg, bgW: 3, raw: feCoRaw, rawW: 4, fit: feCoFit, pkW: 1.5})
spectrum(gB2, {peaks: [[feCuSat733, LB], [feCu2p12, PU], [feCuSat719, TE], [feCu713, OR], [feCu711, BL], [feCu710, RD]], bg: feCuBg, bgW: 3, raw: feCuRaw, rawW: 4, fit: feCuFit, pkW: 1.5})
spectrum(gB3, {peaks: [[feSat733, LB], [fe2p12, PU], [feSat719, TE], [fe713, OR], [fe711, BL], [fe710, RD]], bg: feBg, bgW: 3, raw: feRaw, rawW: 4, fit: feFit, pkW: 1.5})
segs(gB1, [[733.2, 75, 733.2, 48.3, LB], [724.9, 83.3, 724.9, 65, PU], [719, 56.7, 719, 33.3, TE], [713.2, 59, 713.2, 42.3, OR], [711.4, 75.7, 711.4, 55, BL], [710, 65.7, 710, 41.7, RD]], false, [4, 3], 1.8)
segs(gB2, [[733.1, 80.3, 733.1, 42, LB], [724.8, 85.3, 724.8, 53.7, PU], [718.8, 57, 718.8, 37, TE], [713.2, 62, 713.2, 38.7, OR], [711.1, 58.7, 711.1, 40.3, BL], [709.8, 58.7, 709.8, 37, RD]], false, [4, 3], 1.8)
segs(gB3, [[733.1, 88.7, 733.1, 63.7, LB], [724.8, 98.7, 724.8, 65.3, PU], [719.1, 67, 719.1, 40.3, TE], [712.9, 88.7, 712.9, 60.3, OR], [711, 95.3, 711, 48.7, BL], [709.8, 70.3, 709.8, 43.7, RD]], false, [4, 3], 1.8)
segs(gB1, [[715, 15, 713.1, 27.7, GD]], true, 'solid', 1.6)
segs(gB2, [[715, 15.3, 713, 23, GD]], true, 'solid', 1.6)
segs(gB3, [[714.6, 20.3, 713, 35.3, GD]], true, 'solid', 1.6)
texts(gB1, [[713.1, 90, '711.2 eV', BL, 12], [719.4, 79, 'satellite', TE, 12], [719, 63.3, '718.8 eV', TE, 12], [715, 74.3, '713.0 eV', OR, 12],
    [707.8, 71, '709.8 eV', RD, 12], [735.3, 48.5, '733.1 eV', LB, 12], [735.1, 36.5, 'satellite', LB, 12], [728.3, 38, '724.7 eV', PU, 12],
    [723.6, 26, 'Fe^{3+} 2p^{1/2}', PU, 12], [716.6, 8.3, 'Fe^{3+} 2p^{3/2}', GD, 12],
    [739.8, 15, 'Ti/Fe_{2}O_{3}/Cu_{2}S/Co(OH)_{x}', '#000', 14, 'left'], [706.3, 101, 'Fe 2p', '#000', 15, 'right']])
texts(gB2, [[711.3, 85.3, '711.0 eV', BL, 12], [718.8, 77, 'satellite', TE, 12], [718.8, 64.3, '718.7 eV', TE, 12], [714, 69.7, '713.0 eV', OR, 12],
    [707.5, 69.7, '709.6 eV', RD, 12], [735.1, 41, 'satellite', LB, 12], [733.8, 29.7, '733.0 eV', LB, 12], [726, 35.3, '724.7 eV', PU, 12],
    [725.5, 19.7, 'Fe^{3+} 2p^{1/2}', PU, 12], [717, 9.7, 'Fe^{3+} 2p^{3/2}', GD, 12], [739.8, 13.7, 'Ti/Fe_{2}O_{3}/Cu_{2}S', '#000', 14, 'left']])
texts(gB3, [[714.3, 95.3, '712.7 eV', OR, 12], [708.8, 100.3, '711.0 eV', BL, 12], [707.3, 84.3, '709.7 eV', RD, 12], [719.3, 85.3, 'satellite', TE, 12],
    [719.1, 74.3, '719.0 eV', TE, 12], [733.1, 47, 'satellite', LB, 12], [733.1, 33.7, '733.0 eV', LB, 12], [725, 33.7, '724.6 eV', PU, 12],
    [724.6, 20.3, 'Fe^{3+} 2p^{1/2}', PU, 12], [716.5, 9.7, 'Fe^{3+} 2p^{3/2}', GD, 12], [739.8, 10.3, 'Ti/Fe_{2}O_{3}', '#000', 14, 'left']])
legendXPS(456.7, 25, 4, 450, 476.7, 40, 478, 12, 2)

// ---------- Panel C ----------
const gC1 = addGrid([842, 15, 355, 118], [526.0, 538.06], 118, cTicks)
const gC2 = addGrid([842, 133, 355, 118], [526.0, 538.06], 118, cTicks)
const gC3 = addGrid([842, 251, 355, 118], [526.0, 538.06], 118, cTicks, cLabels, 11, 5, 'Binding Energy (eV)', 17)
spectrum(gC1, {peaks: [[oCoOH, RD], [oCoFeO, BL]], bg: oCoBg, bgW: 1.2, raw: oCoRaw, dot: 5, fit: oCoFit, fitW: 1.5, pkW: 1.2})
spectrum(gC2, {peaks: [[oCuOH, RD], [oCuFeO, BL]], bg: oCuBg, bgW: 1.2, raw: oCuRaw, dot: 5, fit: oCuFit, fitW: 1.5, pkW: 1.2})
spectrum(gC3, {peaks: [[oOH, RD], [oFeO, BL]], bg: oBg, bgW: 1.2, raw: oRaw, dot: 5, fit: oFit, fitW: 1.5, pkW: 1.2})
segs(gC1, [[532.1, 73, 532.1, 49.7, RD], [529.85, 89.7, 529.85, 69.7, BL]], false, [2, 2], 1.4)
segs(gC2, [[532.1, 74.3, 532.1, 47.7, RD], [529.72, 87.7, 529.72, 69.3, BL]], false, [2, 2], 1.4)
segs(gC3, [[531.9, 80.7, 531.9, 57.3, RD], [529.85, 112.3, 529.85, 89, BL]], false, [2, 2], 1.4)
texts(gC1, [[532.6, 83.7, '532.09 eV', RD, 10.5], [528.2, 82.3, 'Fe-O', BL2, 10.5], [528.16, 66.3, '529.80 eV', BL2, 10.5], [527.4, 101.3, 'O 1s', '#000', 14],
    [537.26, 14.7, 'Ti/Fe_{2}O_{3}/Cu_{2}S/Co(OH)_{x}', '#000', 14, 'left']])
texts(gC2, [[532.5, 86, '532.10 eV', RD, 10.5], [528.1, 88.3, 'Fe-O', BL2, 10.5], [528.1, 69.3, '529.68 eV', BL2, 10.5], [537.26, 11.7, 'Ti/Fe_{2}O_{3}/Cu_{2}S', '#000', 14, 'left']])
texts(gC3, [[532.2, 90.7, '531.85 eV', RD, 10.5], [528.2, 89, 'Fe-O', BL2, 10.5], [528.1, 71.7, '529.79 eV', BL2, 10.5], [537.12, 10.7, 'Ti/Fe_{2}O_{3}', '#000', 14, 'left']])
legendXPS(861.7, 25, 3, 849, 874, 39, 876.7, 11, 1.3)

// ---------- Panel D ----------
const gD1 = addGrid([49, 414, 348, 116], [924.9, 966.1], 116, dTicks)
const gD2 = addGrid([49, 530, 348, 116], [924.9, 966.1], 116, dTicks)
const gD3 = addGrid([49, 646, 348, 116], [924.9, 966.1], 116, dTicks, dLabels, 13, 5.5, 'Binding Energy (eV)', 23)
spectrum(gD1, {peaks: [[cuCo2p12, BL], [cuCo2p32, RD]], bg: cuCoBg, bgW: 1.3, raw: cuCoRaw, dot: 5, rawW: 3.5, fit: cuCoFit, fitW: 1.2, fitZ: 1, pkW: 2})
spectrum(gD2, {peaks: [[cuCu2p12, BL], [cuCu2p32, RD]], bg: cuCuBg, bgW: 1.3, raw: cuCuRaw, dot: 5, rawW: 3.5, fit: cuCuFit, fitW: 1.2, fitZ: 1, pkW: 2})
spectrum(gD3, {peaks: [], raw: cuFeRaw, dot: 5, rawW: 4})
segs(gD1, [[952.3, 76.7, 952.3, 45, BL], [932.3, 106, 932.3, 66.7, RD]], false, [2, 2], 1.3)
segs(gD2, [[952.3, 61, 952.3, 37.7, BL], [932.3, 79.3, 932.3, 49.3, RD]], false, [2, 2], 1.3)
segs(gD1, [[952.2, 48.3, 950.2, 61.7, BL], [932.6, 72.7, 936.6, 72.7, RD]], true, 'solid', 1.3)
segs(gD2, [[951.8, 42, 949.8, 57, BL], [932.7, 51, 936.2, 56.7, RD]], true, 'solid', 1.3)
texts(gD1, [[928, 100.7, 'Cu 2p', '#000', 15], [949.6, 72.7, 'Cu-S 2P^{1/2}', BL, 11, 'left'], [949.6, 59.3, '952.3 eV', BL, 11, 'left'],
    [941.5, 78.3, 'Cu-S 2P^{3/2}', RD, 11, 'left'], [941.5, 66, '932.4 eV', RD, 11, 'left'], [965.4, 15, 'Ti/Fe_{2}O_{3}/Cu_{2}S/Co(OH)x', '#000', 14, 'left']])
texts(gD2, [[949.35, 68.7, 'Cu-S 2P^{1/2}', BL, 11, 'left'], [949.35, 54.3, '952.3 eV', BL, 11, 'left'], [941.07, 65.3, 'Cu-S 2P^{3/2}', RD, 11, 'left'],
    [941.07, 52.7, '932.4 eV', RD, 11, 'left'], [964.7, 12.7, 'Ti/Fe_{2}O_{3}/Cu_{2}S', '#000', 14, 'left']])
texts(gD3, [[964.7, 15.3, 'Ti/Fe_{2}O_{3}', '#000', 14, 'left']])
legendXPS(68.3, 426, 2.6, 56.7, 80, 439.3, 82.7, 11, 1.3)

// ---------- Panel E ----------
const gE1 = addGrid([447, 414, 345, 115], [159.0, 167.5], 115, eTicks)
const gE2 = addGrid([447, 529, 345, 115], [159.0, 167.5], 115, eTicks)
const gE3 = addGrid([447, 644, 345, 116], [159.0, 167.5], 116, eTicks, eLabels, 13, 7.5, 'Binding Energy (eV)', 23)
spectrum(gE1, {peaks: [[sCoSO12, TE], [sCoSO32, OR], [sCoCuS12, BL], [sCoCuS32, RD]], bg: sCoBg, bgW: 1.3, raw: sCoRaw, dot: 7, fit: sCoFit, fitW: 1.8, pkW: 1.8})
spectrum(gE2, {peaks: [[sCuSO12, TE], [sCuSO32, OR], [sCuCuS12, BL], [sCuCuS32, RD]], bg: sCuBg, bgW: 1.3, raw: sCuRaw, dot: 7, fit: sCuFit, fitW: 1.8, pkW: 1.8})
spectrum(gE3, {peaks: [], raw: sFeRaw, dot: 7, rawW: 4})
segs(gE1, [[164.96, 56.7, 164.96, 33.3, TE], [164.17, 68.3, 164.17, 43.3, OR], [163.39, 86.7, 163.39, 43.3, BL], [162.26, 86.7, 162.26, 56.7, RD]], false, [2, 2], 1.4)
segs(gE2, [[164.27, 47.7, 164.27, 36, TE], [163.43, 49.3, 163.43, 36, OR], [162.59, 57.7, 162.59, 39.3, BL], [161.63, 69.3, 161.63, 49.3, RD]], false, [2, 2], 1.4)
segs(gE1, [[164.9, 41, 166.2, 66.7, TE], [164.17, 46.7, 164.4, 76.7, OR], [162.7, 75, 161.3, 100, BL], [162.2, 55.7, 160.5, 56.7, RD]], true, 'solid', 1.5)
segs(gE2, [[164.27, 38.7, 166.59, 66.7, TE], [163.45, 42, 164.93, 69.3, OR], [162.63, 49.3, 162.75, 73.3, BL], [161.6, 49.3, 160.25, 71, RD]], true, 'solid', 1.5)
texts(gE1, [[164.33, 101, 'S-O  2P^{3/2}', OR, 11.5], [164.33, 84.3, '164.2 eV', OR, 11.5], [161.2, 101, 'Cu-S  2P^{1/2}', BL, 11.5], [161.37, 83.3, '163.4 eV', BL, 11.5],
    [159.8, 72.3, 'Cu-S  2P^{3/2}', RD, 11.5], [159.85, 55.7, '162.3 eV', RD, 11.5], [166.8, 73.3, 'S-O  2P^{1/2}', TE, 11.5], [166.85, 55.7, '165.0 eV', TE, 11.5],
    [159.55, 99.7, 'S 2p', '#000', 14], [167.44, 15, 'Ti/Fe_{2}O_{3}/Cu_{2}S/Co(OH)_{x}', '#000', 14, 'left']])
texts(gE2, [[166.49, 90, 'S-O  2P^{1/2}', TE, 11.5], [166.53, 73.3, '164.3 eV', TE, 11.5], [164.72, 94.3, 'S-O  2P^{3/2}', OR, 11.5], [164.8, 81, '162.3 eV', OR, 11.5],
    [162.75, 101, 'Cu-S  2P^{1/2}', BL, 11.5], [162.79, 83.3, '162.6 eV', BL, 11.5], [160.17, 95.3, 'Cu-S  2P^{3/2}', RD, 11.5], [160.17, 78.7, '161.6 eV', RD, 11.5],
    [167.44, 16, 'Ti/Fe_{2}O_{3}/Cu_{2}S', '#000', 14, 'left']])
texts(gE3, [[167.35, 11.7, 'Ti/Fe_{2}O_{3}', '#000', 14, 'left']])
legendXPS(463.3, 424, 3.5, 450, 476.7, 439, 478.3, 12, 2)

// ---------- Panel F ----------
const gF1 = addGrid([852, 414, 342, 114], [770, 810], 114, fTicks)
const gF2 = addGrid([852, 528, 342, 114], [770, 810], 114, fTicks)
const gF3 = addGrid([852, 642, 342, 117], [770, 810], 117, fTicks, fLabels, 14, 6.5, 'Binding Energy (eV)', 23)
spectrum(gF1, {peaks: [[coSatA, OR], [coCo2A, TE], [coCo3A, PU2], [coSatB, GR], [coCo2B, BL], [coCo3B, RD]], bg: coBg, bgW: 1.2, raw: coRaw, dot: 6.5, rawW: 3.5, fit: coFit, fitW: 2, pkW: 2})
spectrum(gF2, {peaks: [], raw: coCuRaw, dot: 7, rawW: 5})
spectrum(gF3, {peaks: [], raw: coFeRaw, dot: 7, rawW: 5})
texts(gF1, [[780.6, 99, 'Co 2p^{3/2}', DR, 15], [772.8, 97.3, 'Co 2p', '#000', 15], [799.7, 64, 'Co 2p^{1/2}', R2, 15], [809.4, 54.7, 'satellite', OR, 14, 'left'],
    [795, 52.3, 'Co^{2+}', TE, 14], [790.7, 73.3, 'Co^{3+}', PU2, 14], [779, 71.3, 'Co^{2+}', BL2, 14], [775.1, 26.7, 'Co^{3+}', RD, 14],
    [782.9, 9, 'satellite', GR, 14], [809.5, 15.7, 'Ti/Fe_{2}O_{3}/Cu_{2}S/Co(OH)_{x}', '#000', 14, 'left']])
texts(gF2, [[809.3, 15.3, 'Ti/Fe_{2}O_{3}/Cu_{2}S', '#000', 14, 'left']])
texts(gF3, [[809.3, 17.3, 'Ti/Fe_{2}O_{3}', '#000', 14, 'left']])
legendXPS(868.3, 425.7, 3.5, 860, 888, 440.7, 891.7, 13, 2)

// ---------- shared titles ----------
;[[40, 190, 15], [435, 190, 14], [832, 195, 14], [42, 588, 14], [435, 587, 14], [840, 585, 15]].forEach(([x, y, s]) => gtext(x, y, 'Intensity (a.u.)', s, '#000', Math.PI / 2))
;[['A', 10, 27], ['B', 418, 27], ['C', 806, 27], ['D', 11, 426], ['E', 419, 426], ['F', 817, 426]].forEach(([s, x, y]) => gtext(x, y, s, 34))

const chart = echarts.init(document.getElementById('chart'))
chart.setOption(option)
</script>
</body>
</html>
